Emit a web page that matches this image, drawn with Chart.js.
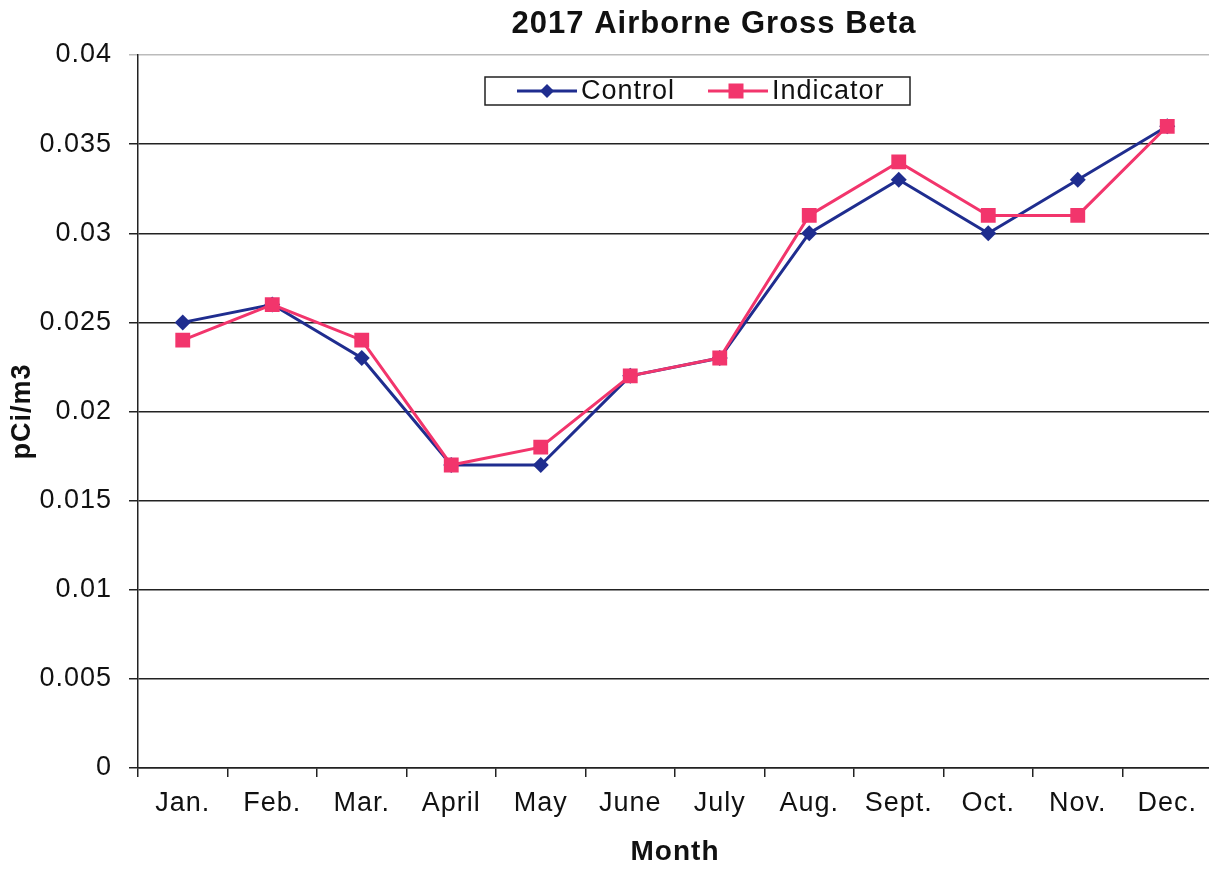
<!DOCTYPE html>
<html>
<head>
<meta charset="utf-8">
<script src="https://cdn.jsdelivr.net/npm/chart.js@4/dist/chart.umd.min.js"></script>
<style>
  html, body { margin: 0; padding: 0; background: #fff; overflow: hidden; }
  #wrap { width: 1209px; height: 869px; overflow: hidden; }
</style>
</head>
<body>
<div id="wrap"><canvas id="beta-chart" width="1212" height="869"></canvas></div>
<script>
// values
const months = ["Jan.", "Feb.", "Mar.", "April", "May", "June", "July", "Aug.", "Sept.", "Oct.", "Nov.", "Dec."];
const controlVals = [0.025, 0.026, 0.023, 0.017, 0.017, 0.022, 0.023, 0.030, 0.033, 0.030, 0.033, 0.036];
const indicatorVals = [0.024, 0.026, 0.024, 0.017, 0.018, 0.022, 0.023, 0.031, 0.034, 0.031, 0.031, 0.036];
const yTicks = [0, 0.005, 0.01, 0.015, 0.02, 0.025, 0.03, 0.035, 0.04];

const NAVY = "#1f2d8f";
const PINK = "#f2356c";
const FONT = "Arial, 'Liberation Sans', sans-serif";
const SPACING = "1px"; // the scanned original's lettering is a bit stretched

// slightly wider letter spacing for all text the chart draws
const spacing = {
  id: "spacing",
  beforeUpdate(chart) { chart.ctx.letterSpacing = SPACING; },
  beforeDraw(chart) { chart.ctx.letterSpacing = SPACING; }
};

// title sits a bit right of centre, legend in a bordered box inside the plot
const extras = {
  id: "extras",
  afterDraw(chart) {
    const ctx = chart.ctx;
    ctx.save();
    ctx.letterSpacing = SPACING;
    ctx.fillStyle = "#111";
    ctx.font = "bold 31px " + FONT;
    ctx.textAlign = "center";
    ctx.textBaseline = "middle";
    ctx.fillText("2017 Airborne Gross Beta", 714, 24);

    const x0 = 485, y0 = 77, w = 425, h = 28;
    ctx.fillStyle = "#fff";
    ctx.fillRect(x0, y0, w, h);
    ctx.strokeStyle = "#222";
    ctx.lineWidth = 1.5;
    ctx.strokeRect(x0, y0, w, h);
    const cy = y0 + h / 2;
    const items = [
      { label: "Control", color: NAVY, shape: "diamond", lx: 517, mx: 547, tx: 581 },
      { label: "Indicator", color: PINK, shape: "square", lx: 708, mx: 736, tx: 772 }
    ];
    ctx.font = "27px " + FONT;
    ctx.textAlign = "left";
    items.forEach(it => {
      ctx.strokeStyle = it.color;
      ctx.lineWidth = 3;
      ctx.beginPath();
      ctx.moveTo(it.lx, cy);
      ctx.lineTo(it.lx + 60, cy);
      ctx.stroke();
      ctx.fillStyle = it.color;
      if (it.shape === "diamond") {
        ctx.beginPath();
        ctx.moveTo(it.mx, cy - 7);
        ctx.lineTo(it.mx + 7, cy);
        ctx.lineTo(it.mx, cy + 7);
        ctx.lineTo(it.mx - 7, cy);
        ctx.closePath();
        ctx.fill();
      } else {
        ctx.fillRect(it.mx - 7.5, cy - 7.5, 15, 15);
      }
      ctx.fillStyle = "#111";
      ctx.fillText(it.label, it.tx, cy + 1);
    });
    ctx.restore();
  }
};

const ctx = document.getElementById("beta-chart").getContext("2d");
new Chart(ctx, {
  type: "line",
  data: {
    labels: months,
    datasets: [
      {
        label: "Control",
        data: controlVals,
        borderColor: NAVY,
        backgroundColor: NAVY,
        borderWidth: 3,
        pointStyle: "rectRot",
        pointRadius: 8,
        pointBorderWidth: 0,
        tension: 0,
        order: 1
      },
      {
        label: "Indicator",
        data: indicatorVals,
        borderColor: PINK,
        backgroundColor: PINK,
        borderWidth: 3,
        pointStyle: "rect",
        pointRadius: 10.5,
        pointBorderWidth: 0,
        tension: 0,
        order: 0
      }
    ]
  },
  options: {
    responsive: false,
    animation: false,
    layout: { autoPadding: false, padding: { left: 0, right: 0, top: 55, bottom: 0 } },
    plugins: {
      legend: { display: false },
      tooltip: { enabled: false },
      title: { display: false }
    },
    scales: {
      x: {
        offset: true,
        afterFit(scale) { scale.height = 101; },
        grid: { offset: true, drawOnChartArea: false, color: "#222", lineWidth: 1.5, tickLength: 9 },
        border: { color: "#222", width: 1.5 },
        ticks: { color: "#111", font: { family: FONT, size: 27 }, padding: 10, maxRotation: 0, autoSkip: false },
        title: {
          display: true,
          text: "Month",
          color: "#111",
          font: { family: FONT, size: 28, weight: "bold" },
          padding: { top: 0, bottom: 0 }
        }
      },
      y: {
        min: 0,
        max: 0.04,
        afterBuildTicks(scale) {
          scale.ticks = yTicks.map(v => ({ value: v }));
        },
        afterFit(scale) { scale.width = 138; },
        grid: {
          color: c => (c.tick && c.tick.value === 0.04 ? "#bbb" : "#222"),
          lineWidth: 1.5,
          tickLength: 9
        },
        border: { color: "#222", width: 1.5 },
        ticks: {
          color: "#111",
          font: { family: FONT, size: 27 },
          padding: 17,
          callback: v => String(+Number(v).toFixed(3))
        },
        title: {
          display: true,
          text: "pCi/m3",
          color: "#111",
          font: { family: FONT, size: 27, weight: "bold" },
          padding: { top: 6, bottom: 0 }
        }
      }
    }
  },
  plugins: [spacing, extras]
});
</script>
</body>
</html>
